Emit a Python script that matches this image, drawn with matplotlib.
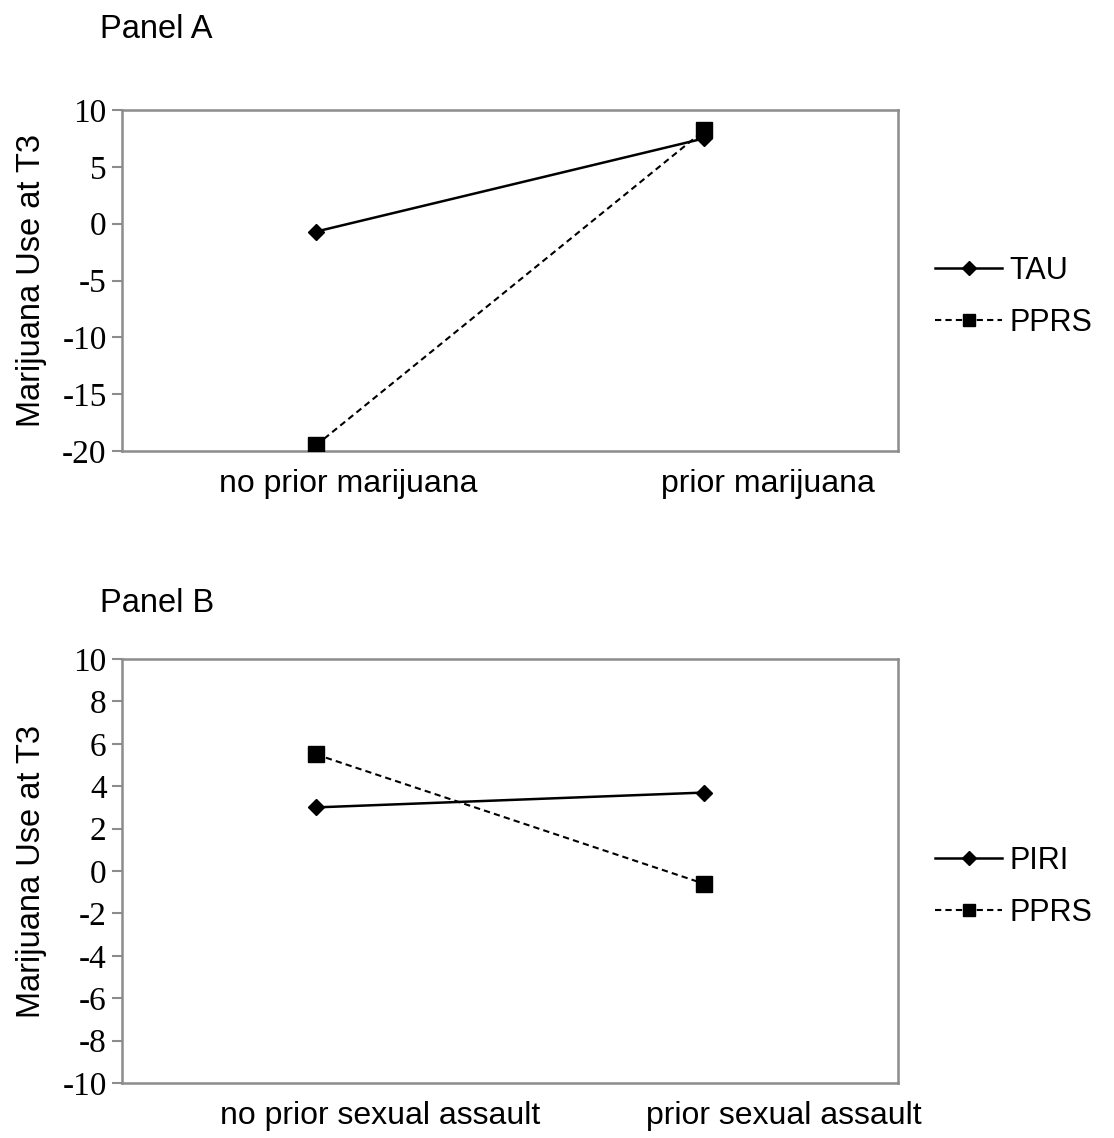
import matplotlib.pyplot as plt
from matplotlib.lines import Line2D

# data
cats_a = ["no prior marijuana", "prior marijuana"]
tau_a = [-0.7, 7.5]
pprs_a = [-19.5, 8.2]

cats_b = ["no prior sexual assault", "prior sexual assault"]
piri_b = [3.0, 3.7]
pprs_b = [5.5, -0.6]

W, H = 1114, 1138
fig = plt.figure(figsize=(W / 100, H / 100), dpi=100)

SANS = "Liberation Sans"
SERIF = "Liberation Serif"
GRAY = "#8c8c8c"


def panel(rect, cats, s1, s2, names, ylim, yticks, title, title_y, leg_y, shifts):
    ax = fig.add_axes(rect)
    x = [0, 1]
    ax.plot(x, s1, color="black", lw=1.8, marker="D", ms=8, zorder=3)
    ax.plot(x, s2, color="black", lw=1.5, ls=(0, (3, 2)), marker="s", ms=11, zorder=3)
    ax.set_xlim(-0.5, 1.5)
    ax.set_ylim(*ylim)
    ax.set_yticks(yticks)
    ax.set_yticklabels([str(t) for t in yticks], fontfamily=SERIF, fontsize=24)
    ax.set_xticks(x)
    ax.set_xticklabels([])
    ax.tick_params(axis="x", length=0)
    # category labels in the original sit a bit right of the points
    for xi, name, dx in zip(x, cats, shifts):
        ax.annotate(name, xy=(xi, 0), xycoords=ax.get_xaxis_transform(),
                    xytext=(dx, -18), textcoords="offset pixels",
                    ha="center", va="top", fontfamily=SANS, fontsize=23)
    ax.tick_params(axis="y", length=7, width=1.5, color=GRAY, pad=4)
    for sp in ax.spines.values():
        sp.set_color(GRAY)
        sp.set_linewidth(1.8)
    ax.set_ylabel("Marijuana Use at T3", fontfamily=SANS, fontsize=23.5)
    ax.yaxis.set_label_coords(-0.097, 0.5)
    fig.text(100 / W, 1 - title_y / H, title, fontfamily=SANS, fontsize=23.5,
             va="center", ha="left")

    handles = [
        Line2D([], [], color="black", lw=1.8, marker="D", ms=7),
        Line2D([], [], color="black", lw=1.5, ls=(0, (3, 2)), marker="s", ms=9),
    ]
    fig.legend(handles, names, loc="upper left",
               bbox_to_anchor=(935 / W, 1 - leg_y / H), frameon=False,
               prop={"family": SANS, "size": 22}, handlelength=2.2,
               handletextpad=0.25, labelspacing=0.72, borderaxespad=0,
               borderpad=0)
    return ax


panel([122 / W, 1 - 451 / H, 776 / W, 341 / H], cats_a, tau_a, pprs_a,
      ["TAU", "PPRS"], (-20, 10), list(range(-20, 11, 5)),
      "Panel A", 30, 256, [32, 64])
panel([122 / W, 1 - 1083 / H, 776 / W, 424 / H], cats_b, piri_b, pprs_b,
      ["PIRI", "PPRS"], (-10, 10), list(range(-10, 11, 2)),
      "Panel B", 603, 846, [64, 80])

fig.savefig("out.png", dpi=100)
